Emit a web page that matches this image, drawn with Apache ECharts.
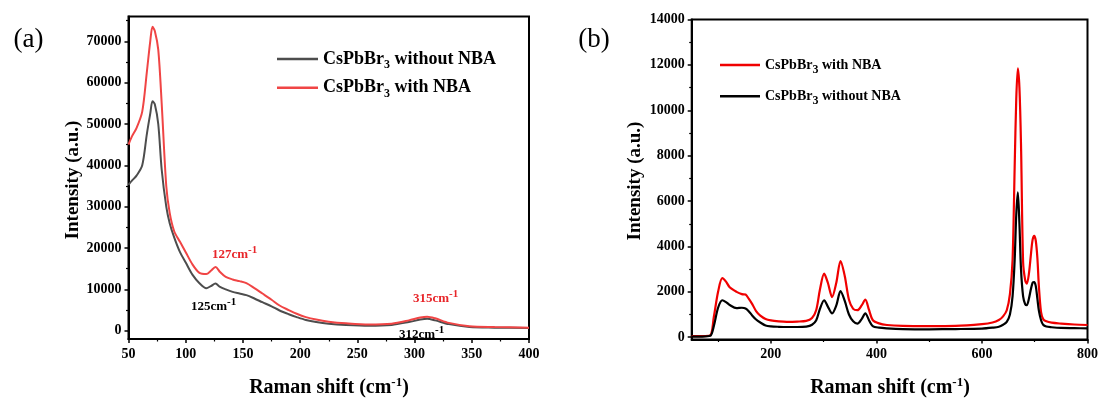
<!DOCTYPE html>
<html><head><meta charset="utf-8">
<script src="https://cdn.jsdelivr.net/npm/echarts@6/dist/echarts.min.js"></script>
<style>html,body{margin:0;padding:0;background:#fff}#c{width:1101px;height:401px}</style>
</head><body><div id="c"></div>
<script>
// ---------- Panel (a) data ----------
const aShift = [50,53,57,62,66,69,71,73,76,79,83,86,90,95,100,106,112,118,122,126,130,135,141,147,153,160,167,175,182,190,197,205,214,225,240,260,280,295,305,311,318,330,348,370,400];
const aWithout = [35300,36300,37500,40000,47500,52500,55500,54800,50000,39000,30000,26000,22500,19000,16500,13500,11500,10300,10800,11400,10600,10000,9400,9000,8600,7800,6900,5900,4900,4000,3300,2600,2100,1700,1400,1200,1400,2100,2700,2900,2500,1600,900,750,650];
const aWith = [45000,47000,49000,53000,62500,70000,73500,72500,68000,55000,35000,28500,24000,21500,19000,16000,14000,13700,14500,15400,14200,13000,12400,12000,11500,10300,9000,7500,6100,5000,4100,3300,2700,2200,1800,1500,1700,2500,3200,3400,3000,1900,1100,900,750];
const aXTicks = [50,100,150,200,250,300,350,400];
const aXMinor = [75,125,175,225,275,325,375];
const aYTicks = [0,10000,20000,30000,40000,50000,60000,70000];
const aYMinor = [5000,15000,25000,35000,45000,55000,65000,75000];

// ---------- Panel (b) data ----------
const bShift = [50,70,85,92,100,108,115,122,135,145,152,158,165,172,180,190,200,215,230,250,267,278,286,293,301,308,316,324,332,340,348,356,364,372,379,386,393,405,420,450,500,550,600,620,632,640,647,653,658,662,665,668,671,674,678,682,685,689,693,696,699,702,705,708,712,716,722,732,750,775,800];
const bWith = [50,50,80,900,2000,2600,2450,2200,2000,1900,1880,1700,1450,1150,950,800,740,700,680,690,720,850,1200,2100,2800,2400,1770,2400,3350,2700,1650,1250,1190,1400,1660,1200,760,610,540,500,490,500,580,650,760,920,1190,1900,3400,7500,10500,11850,11000,8500,3300,2500,2360,2800,3700,4300,4470,4250,3500,2200,1100,800,700,640,600,560,540];
const bWithout = [30,30,60,500,1300,1630,1550,1420,1280,1300,1270,1150,950,780,650,520,480,460,450,450,470,550,750,1250,1630,1350,1050,1400,2030,1600,1000,700,600,800,1050,750,490,420,390,360,350,360,380,420,460,550,680,1000,1800,3400,5400,6380,5000,3000,1800,1450,1410,1700,2150,2400,2430,2250,1700,1150,750,550,470,440,410,400,390];
const bXTicks = [200,400,600,800];
const bXMinor = [100,300,500,700];
const bYTicks = [0,2000,4000,6000,8000,10000,12000,14000];
const bYMinor = [1000,3000,5000,7000,9000,11000,13000];

const FF = '"Times New Roman","Liberation Serif",serif';
const pair = (xs, ys) => xs.map((x, i) => [x, ys[i]]);

const tickLabel = {color:'#000', fontFamily:FF, fontWeight:'bold', fontSize:14, formatter:(v) => String(v)};

function mainAxis(gridIndex, min, max, ticks, margin, extra) {
  return Object.assign({
    type:'value', gridIndex, min, max,
    axisLine:{show:true, onZero:false, lineStyle:{color:'#000', width:2}},
    axisTick:{show:true, inside:false, length:4, lineStyle:{color:'#000', width:1.5}, customValues:ticks},
    axisLabel:Object.assign({margin, customValues:ticks}, tickLabel),
    splitLine:{show:false}
  }, extra || {});
}
function minorAxis(gridIndex, min, max, ticks, extra) {
  return Object.assign({
    type:'value', gridIndex, min, max,
    axisLine:{show:false, onZero:false},
    axisTick:{show:true, inside:false, length:2.5, lineStyle:{color:'#000', width:1.2}, customValues:ticks},
    axisLabel:{show:false},
    splitLine:{show:false}
  }, extra || {});
}

const legendNames = {
  aWithout:'{n|CsPbBr}{s|3}{n| without NBA}',
  aWith:'{n|CsPbBr}{s|3}{n| with NBA}',
  bWith:'{n|CsPbBr}{s|3}{n| with NBA}',
  bWithout:'{n|CsPbBr}{s|3}{n| without NBA}'
};

function supText(main, color, size, x, y) {
  return {
    type:'text', x, y,
    style:{
      text:'{n|' + main + '}{p|-1}',
      fill:color,
      rich:{
        n:{fontFamily:FF, fontWeight:'bold', fontSize:size, lineHeight:20, fill:color},
        p:{fontFamily:FF, fontWeight:'bold', fontSize:size-2, lineHeight:8, verticalAlign:'top', fill:color}
      },
      align:'left', verticalAlign:'middle'
    }
  };
}

const xTitle = (cx) => ({
  type:'text', x:cx, y:388,
  style:{
    text:'{n|Raman shift (cm}{p|-1}{n|)}',
    rich:{
      n:{fontFamily:FF, fontWeight:'bold', fontSize:20, lineHeight:24, fill:'#000'},
      p:{fontFamily:FF, fontWeight:'bold', fontSize:13, lineHeight:10, verticalAlign:'top', fill:'#000'}
    },
    align:'center', verticalAlign:'middle'
  }
});
const yTitle = (cx, cy) => ({
  type:'text', x:cx, y:cy, rotation:Math.PI/2,
  style:{text:'Intensity (a.u.)', font:'bold 19px ' + FF, fill:'#000', align:'center', verticalAlign:'middle'}
});

const chart = echarts.init(document.getElementById('c'), null, {renderer:'canvas'});
chart.setOption({
  animation:false,
  backgroundColor:'#fff',
  grid:[
    {left:128.5, top:16.5, width:400.5, height:322.5, show:true, borderColor:'#000', borderWidth:2, containLabel:false},
    {left:691.7, top:19.5, width:396.5, height:320, show:true, borderColor:'#000', borderWidth:2, containLabel:false}
  ],
  xAxis:[
    mainAxis(0, 50, 400, aXTicks, 8, {position:'bottom'}),
    minorAxis(0, 50, 400, aXMinor, {position:'bottom'}),
    mainAxis(1, 50, 800, bXTicks, 8, {position:'bottom'}),
    minorAxis(1, 50, 800, bXMinor, {position:'bottom'})
  ],
  yAxis:[
    mainAxis(0, -2000, 76000, aYTicks, 7, {position:'left'}),
    minorAxis(0, -2000, 76000, aYMinor, {position:'left'}),
    mainAxis(1, -100, 14000, bYTicks, 7, {position:'left'}),
    minorAxis(1, -100, 14000, bYMinor, {position:'left'})
  ],
  legend:[
    {
      left:277, top:49, orient:'vertical', icon:'rect', itemWidth:41, itemHeight:2.5, itemGap:6.7,
      padding:0, selectedMode:false, data:['aWithout','aWith'],
      formatter:(n) => legendNames[n],
      textStyle:{rich:{
        n:{fontFamily:FF, fontWeight:'bold', fontSize:18, lineHeight:20, color:'#000'},
        s:{fontFamily:FF, fontWeight:'bold', fontSize:12, lineHeight:20, verticalAlign:'top', padding:[10,0,0,0], color:'#000'}
      }}
    },
    {
      left:720, top:57, orient:'vertical', icon:'rect', itemWidth:40, itemHeight:2.5, itemGap:12.3,
      padding:0, selectedMode:false, data:['bWith','bWithout'],
      formatter:(n) => legendNames[n],
      textStyle:{rich:{
        n:{fontFamily:FF, fontWeight:'bold', fontSize:14, lineHeight:16, color:'#000'},
        s:{fontFamily:FF, fontWeight:'bold', fontSize:12, lineHeight:16, verticalAlign:'top', padding:[7,0,0,0], color:'#000'}
      }}
    }
  ],
  series:[
    {name:'aWithout', type:'line', xAxisIndex:0, yAxisIndex:0, data:pair(aShift, aWithout), smooth:0.3, symbol:'none', color:'#4d4d4d', lineStyle:{width:2, color:'#4d4d4d'}, emphasis:{disabled:true}},
    {name:'aWith', type:'line', xAxisIndex:0, yAxisIndex:0, data:pair(aShift, aWith), smooth:0.3, symbol:'none', color:'#f04545', lineStyle:{width:2, color:'#f04545'}, emphasis:{disabled:true}},
    {name:'bWith', type:'line', xAxisIndex:2, yAxisIndex:2, data:pair(bShift, bWith), smooth:0.3, symbol:'none', color:'#f00000', lineStyle:{width:2.2, color:'#f00000'}, emphasis:{disabled:true}},
    {name:'bWithout', type:'line', xAxisIndex:2, yAxisIndex:2, data:pair(bShift, bWithout), smooth:0.3, symbol:'none', color:'#000000', lineStyle:{width:2.2, color:'#000000'}, emphasis:{disabled:true}}
  ],
  graphic:[
    {type:'text', x:28.5, y:40, style:{text:'(a)', font:'27px ' + FF, fill:'#000', align:'center', verticalAlign:'middle'}},
    {type:'text', x:594, y:40, style:{text:'(b)', font:'27px ' + FF, fill:'#000', align:'center', verticalAlign:'middle'}},
    xTitle(329),
    xTitle(890),
    yTitle(73, 180),
    yTitle(635, 181),
    supText('127cm', '#e8262a', 13, 212, 255),
    supText('125cm', '#000', 13, 191, 307),
    supText('315cm', '#e8262a', 13, 413, 299),
    supText('312cm', '#000', 13, 399, 335)
  ]
});
</script>
</body></html>
